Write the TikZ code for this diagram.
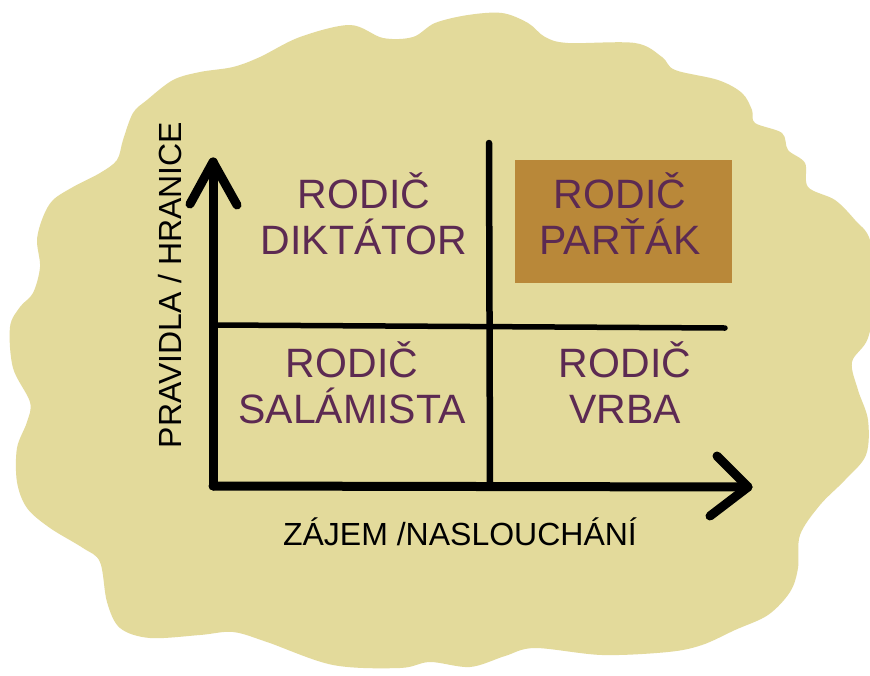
\documentclass[tikz,border=0pt]{standalone}
\usepackage{fontspec}
\setmainfont{Liberation Sans}
\definecolor{blob}{HTML}{E3DA9B}
\definecolor{boxbrown}{HTML}{B98839}
\definecolor{ink}{HTML}{5C2A52}
\begin{document}
\begin{tikzpicture}[x=1pt,y=-1pt,
  axis/.style={line width=9pt,line cap=round,line join=round,black},
  vdivider/.style={line width=6.5pt,line cap=round,black},
  hdivider/.style={line width=5.5pt,line cap=round,black},
  quad/.style={text=ink,font=\fontsize{41}{46}\selectfont,align=center,inner sep=0pt},
  axlabel/.style={text=black,font=\fontsize{32}{34}\selectfont,inner sep=0pt}]
\useasboundingbox (0,0) rectangle (870,675);
\fill[white] (0,0) rectangle (870,675);
% blob
\fill[blob] plot[smooth cycle,tension=0.55] coordinates {
 (10,327) (20,307) (33,293) (40,267) (37,240) (43,217) (53,200) (73,187)
 (100,173) (117,160) (123,140) (133,113) (147,100) (173,80) (200,72)
 (233,67) (260,57) (300,37) (350,25) (383,38) (413,37) (435,23) (468,15)
 (502,13) (528,23) (545,37) (568,43) (635,43) (662,57) (675,70) (718,80)
 (742,93) (752,110) (755,123) (782,133) (788,150) (805,163) (808,187)
 (835,200) (855,220) (870,240) (876,290) (868,338) (852,362) (858,390)
 (868,420) (866,455) (845,480) (820,505) (800,535) (798,568) (790,592)
 (768,615) (735,630) (702,645) (668,652) (602,655) (535,648) (505,656)
 (470,667) (430,662) (400,668) (333,665) (267,642) (233,632) (200,635)
 (150,638) (120,628) (107,602) (100,562) (83,548) (50,528) (27,508)
 (17,482) (17,448) (27,422) (30,402) (13,368)};
% highlighted box
\fill[boxbrown] (515,160) rectangle (732,283);
% coordinates
\coordinate (O) at (213,486);
\coordinate (ytip) at (213,162);
\coordinate (xtip) at (748,487);
\coordinate (yl) at (190,204);
\coordinate (yr) at (237,205);
\coordinate (xu) at (717,456);
\coordinate (xd) at (710,516);
\coordinate (vtop) at (489,143);
\coordinate (vbot) at (490,484);
\coordinate (hleft) at (217,325);
\coordinate (hright) at (725,328);
% dividers
\draw[vdivider] (vtop) -- (vbot);
\draw[hdivider] (hleft) -- (hright);
% axes
\draw[axis] (O) -- (ytip);
\draw[axis] (yl) -- (ytip) -- (yr);
\draw[axis] (O) -- (xtip);
\draw[axis] (xu) -- (xtip) -- (xd);
% quadrant labels
\node[quad] (dikt) at (364,214) {RODIČ\\DIKTÁTOR};
\node[quad] (part) at (620,214) {RODIČ\\PARŤÁK};
\node[quad] (sala) at (352,383) {RODIČ\\SALÁMISTA};
\node[quad] (vrba) at (625,383) {RODIČ\\VRBA};
% axis labels
\node[axlabel,rotate=90] (ylab) at (170,285) {PRAVIDLA / HRANICE};
\node[axlabel] (xlab) at (460,532) {ZÁJEM /NASLOUCHÁNÍ};
\end{tikzpicture}
\end{document}
